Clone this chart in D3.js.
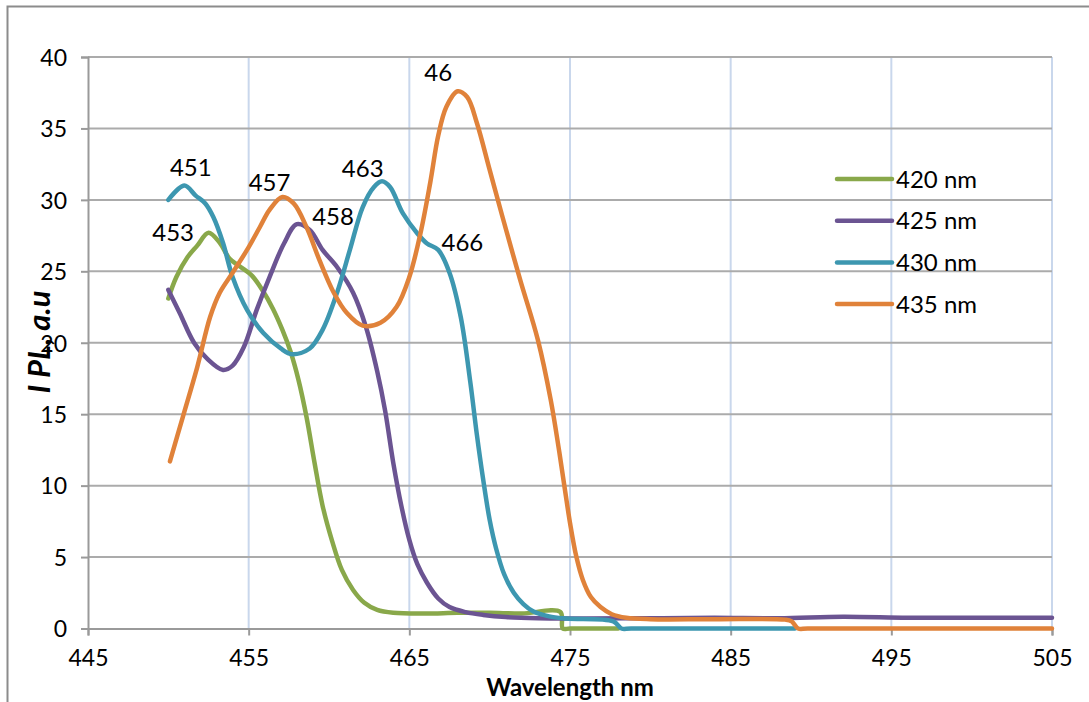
<!DOCTYPE html>
<html>
<head>
<meta charset="utf-8">
<script src="https://cdn.jsdelivr.net/npm/d3@7"></script>
<style>
  body { margin: 0; background: #fff; }
  svg { display: block; font-family: Lato, "Open Sans", sans-serif; }
</style>
</head>
<body>
<div id="chart"></div>
<script>
// series: wavelength (nm) and PL intensity (a.u.)
var seriesNames = ["420 nm", "425 nm", "430 nm", "435 nm"];
var seriesColors = ["#89a84a", "#6b5492", "#3d97b0", "#e0823a"];

var nm420 = [450, 450.5, 451.2, 451.8, 452.5, 453.2, 453.8, 454.5, 455.2, 455.9, 456.5, 457.1, 457.6, 458.1, 458.6, 459.1, 459.6, 460.2, 460.8, 461.5, 462.2, 463, 464, 466, 468, 470, 472, 474.4, 474.55, 475, 478];
var pl420 = [23.1, 24.6, 26.0, 26.8, 27.7, 27.0, 25.9, 25.3, 24.7, 23.6, 22.4, 20.9, 19.4, 17.4, 14.8, 11.6, 8.6, 6.1, 4.1, 2.7, 1.8, 1.3, 1.1, 1.05, 1.1, 1.1, 1.05, 1.15, 0, 0, 0];

var nm425 = [450, 450.7, 451.6, 452.4, 453.4, 454.0, 454.7, 455.5, 456.3, 457.2, 458.0, 458.8, 459.6, 460.5, 461.5, 462.3, 463.0, 463.5, 464.0, 464.5, 465.0, 465.5, 466.1, 466.8, 467.5, 468.5, 469.6, 471, 473, 476, 480, 484, 488, 492, 496, 500, 505];
var pl425 = [23.7, 22.1, 20.0, 18.9, 18.1, 18.4, 19.7, 22.3, 24.6, 26.95, 28.3, 27.9, 26.5, 25.3, 23.5, 21.1, 18.0, 15.2, 11.6, 8.6, 6.2, 4.5, 3.2, 2.1, 1.5, 1.15, 0.95, 0.8, 0.72, 0.7, 0.72, 0.75, 0.72, 0.82, 0.75, 0.75, 0.75];

var nm430 = [450, 451.0, 451.7, 452.3, 452.8, 453.4, 454.0, 454.9, 455.9, 457.0, 457.7, 458.8, 459.6, 460.5, 461.3, 462.1, 462.8, 463.3, 463.8, 464.6, 465.5, 466.1, 466.8, 467.5, 468.2, 468.8, 469.2, 469.6, 470.0, 470.4, 470.9, 471.5, 472.1, 472.7, 473.7, 474.8, 477.7, 478.2, 478.8, 489];
var pl430 = [30.0, 31.0, 30.3, 29.75, 28.8, 27.0, 24.6, 22.3, 20.7, 19.6, 19.2, 19.6, 20.9, 23.5, 26.5, 29.5, 30.9, 31.3, 30.9, 29.05, 27.65, 26.95, 26.5, 24.9, 21.8, 17.2, 13.6, 10.4, 7.6, 5.6, 3.8, 2.5, 1.7, 1.2, 0.85, 0.7, 0.5, 0, 0, 0];

var nm435 = [450.1, 450.9, 451.8, 452.6, 453.2, 454.0, 454.9, 455.7, 456.3, 457.1, 457.8, 458.6, 459.4, 460.3, 461.1, 462.1, 463.2, 464.2, 465.0, 465.7, 466.3, 466.8, 467.3, 468.0, 468.6, 469.2, 470.0, 470.8, 471.9, 473.0, 473.8, 474.3, 474.7, 475.0, 475.4, 475.8, 476.3, 476.9, 477.6, 478.5, 480, 484, 488.4, 488.8, 489.2, 489.8, 505];
var pl435 = [11.7, 14.8, 18.3, 21.8, 23.5, 24.9, 26.5, 28.1, 29.3, 30.2, 29.75, 28.1, 25.8, 23.5, 22.1, 21.2, 21.4, 22.5, 24.6, 27.7, 31.2, 34.5, 36.5, 37.6, 37.2, 35.4, 32.1, 28.8, 24.4, 20.2, 16.0, 12.6, 9.6, 7.4, 5.0, 3.4, 2.2, 1.5, 1.0, 0.75, 0.65, 0.65, 0.62, 0.5, 0, 0, 0];

// peak labels typed on the chart
var peakText = ["451", "453", "457", "458", "463", "466", "46"];
var peakNm = [451.4, 450.3, 456.3, 460.25, 462.1, 468.3, 466.8];
var peakPl = [32.3, 27.75, 31.25, 28.87, 32.2, 27.05, 38.95];

var xTicks = [445, 455, 465, 475, 485, 495, 505];
var yTicks = [0, 5, 10, 15, 20, 25, 30, 35, 40];

var W = 1089, H = 702;
var plotLeft = 88, plotRight = 1052, plotTop = 57, plotBottom = 628.5;

var svg = d3.select("#chart").append("svg")
    .attr("width", W)
    .attr("height", H);

svg.append("rect").attr("width", W).attr("height", H).attr("fill", "#fff");

// outer chart frame, cut by the picture edges
svg.append("rect")
    .attr("x", 7.5).attr("y", 6.5)
    .attr("width", 1200).attr("height", 800)
    .attr("fill", "none")
    .attr("stroke", "#8c8c8c")
    .attr("stroke-width", 2);

var x = d3.scaleLinear().domain([445, 505]).range([plotLeft, plotRight]);
var y = d3.scaleLinear().domain([0, 40]).range([plotBottom, plotTop]);

// gridlines
svg.append("g").selectAll("line")
    .data(xTicks.slice(1))
    .enter().append("line")
    .attr("x1", function (d) { return x(d); })
    .attr("x2", function (d) { return x(d); })
    .attr("y1", plotTop).attr("y2", plotBottom)
    .attr("stroke", "#c9d7ec")
    .attr("stroke-width", 2);

svg.append("g").selectAll("line")
    .data(yTicks.slice(1))
    .enter().append("line")
    .attr("x1", plotLeft).attr("x2", plotRight)
    .attr("y1", function (d) { return y(d); })
    .attr("y2", function (d) { return y(d); })
    .attr("stroke", "#ababab")
    .attr("stroke-width", 2);

// axes
var xAxis = svg.append("g")
    .attr("transform", "translate(0," + plotBottom + ")")
    .call(d3.axisBottom(x).tickValues(xTicks).tickSize(7).tickPadding(14).tickFormat(d3.format("d")));
var yAxis = svg.append("g")
    .attr("transform", "translate(" + plotLeft + ",0)")
    .call(d3.axisLeft(y).tickValues(yTicks).tickSize(7).tickPadding(14).tickFormat(d3.format("d")));

[xAxis, yAxis].forEach(function (a) {
    a.select(".domain").attr("stroke", "#9a9a9a").attr("stroke-width", 2);
    a.selectAll(".tick line").attr("stroke", "#9a9a9a").attr("stroke-width", 2);
    a.selectAll(".tick text")
        .attr("fill", "#000")
        .style("font-family", "Lato, 'Open Sans', sans-serif")
        .style("font-size", "23px");
});
yAxis.selectAll(".tick text").attr("dy", "0.36em");

// series
var lineData = [
    d3.zip(nm420, pl420),
    d3.zip(nm425, pl425),
    d3.zip(nm430, pl430),
    d3.zip(nm435, pl435)
];

var line = d3.line()
    .x(function (d) { return x(d[0]); })
    .y(function (d) { return y(d[1]); })
    .curve(d3.curveCatmullRom.alpha(0.5));

svg.append("g").selectAll("path")
    .data(lineData)
    .enter().append("path")
    .attr("d", line)
    .attr("fill", "none")
    .attr("stroke", function (d, i) { return seriesColors[i]; })
    .attr("stroke-width", 4.5)
    .attr("stroke-linejoin", "round")
    .attr("stroke-linecap", "round");

// peak labels
svg.append("g").selectAll("text")
    .data(peakText)
    .enter().append("text")
    .attr("x", function (d, i) { return x(peakNm[i]); })
    .attr("y", function (d, i) { return y(peakPl[i]); })
    .attr("dy", "0.36em")
    .attr("text-anchor", "middle")
    .style("font-size", "24px")
    .text(function (d) { return d; });

// legend
var legend = svg.append("g").selectAll("g")
    .data(seriesNames)
    .enter().append("g")
    .attr("transform", function (d, i) { return "translate(837," + (179 + i * 41.7) + ")"; });

legend.append("line")
    .attr("x1", 0).attr("x2", 55)
    .attr("stroke", function (d, i) { return seriesColors[i]; })
    .attr("stroke-width", 4.5)
    .attr("stroke-linecap", "round");

legend.append("text")
    .attr("x", 59)
    .attr("dy", "0.36em")
    .style("font-size", "24px")
    .text(function (d) { return d; });

// axis titles
svg.append("text")
    .attr("x", 570).attr("y", 696)
    .attr("text-anchor", "middle")
    .style("font-size", "24px")
    .style("font-weight", "bold")
    .text("Wavelength nm");

svg.append("text")
    .attr("transform", "translate(50,342) rotate(-90)")
    .attr("text-anchor", "middle")
    .style("font-size", "31px")
    .style("font-weight", "bold")
    .style("font-style", "italic")
    .text("I PL, a.u");
</script>
</body>
</html>
